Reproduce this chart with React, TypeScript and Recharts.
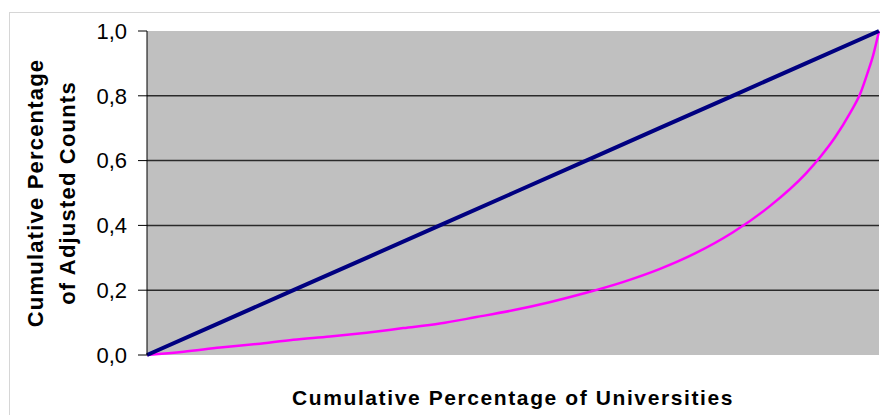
import React from "react"
import { LineChart, Line, XAxis, YAxis, CartesianGrid } from "recharts"

// Share of universities (x) against share of adjusted counts (y)
const equalityShares = [0, 0.1, 0.2, 0.3, 0.4, 0.5, 0.6, 0.7, 0.8, 0.9, 1.0]
const equalityCounts = [0, 0.1, 0.2, 0.3, 0.4, 0.5, 0.6, 0.7, 0.8, 0.9, 1.0]

const lorenzShares = [
  0, 0.05, 0.1, 0.15, 0.2, 0.25, 0.3, 0.35, 0.4, 0.45, 0.5, 0.55, 0.6, 0.65, 0.7, 0.75, 0.8, 0.85, 0.9,
  0.92, 0.94, 0.96, 0.975, 0.985, 0.992, 1.0,
]
const lorenzCounts = [
  0, 0.01, 0.023, 0.034, 0.047, 0.057, 0.069, 0.083, 0.097, 0.117, 0.138, 0.163, 0.192, 0.225, 0.265,
  0.315, 0.378, 0.458, 0.56, 0.612, 0.672, 0.745, 0.81, 0.875, 0.925, 1.0,
]

const yTicks = [0, 0.2, 0.4, 0.6, 0.8, 1.0]
const gridValues = [0.2, 0.4, 0.6, 0.8]

const xTitle = "Cumulative Percentage of Universities"
const yTitle = ["Cumulative Percentage", "of Adjusted Counts"]

const equalityData = equalityShares.map((x, i) => ({ x, y: equalityCounts[i] }))
const lorenzData = lorenzShares.map((x, i) => ({ x, y: lorenzCounts[i] }))

const FONT = "'Liberation Sans', Arial, sans-serif"

function YTitle(props: any) {
  const vb = props.viewBox || { x: 0, y: 31, width: 147, height: 324 }
  const cy = vb.y + vb.height / 2
  return (
    <g>
      {yTitle.map((line, i) => {
        const x = i === 0 ? 43 : 75
        return (
          <text
            key={line}
            x={x}
            y={cy}
            transform={`rotate(-90, ${x}, ${cy})`}
            textAnchor="middle"
            fontFamily={FONT}
            fontWeight="bold"
            fontSize={22}
            letterSpacing={1.2}
            fill="#000"
          >
            {line}
          </text>
        )
      })}
    </g>
  )
}

function XTitle(props: any) {
  const vb = props.viewBox || { x: 147, y: 355, width: 732, height: 60 }
  return (
    <text
      x={vb.x + vb.width / 2}
      y={vb.y + 50}
      textAnchor="middle"
      fontFamily={FONT}
      fontWeight="bold"
      fontSize={21}
      letterSpacing={1.6}
      fill="#000"
    >
      {xTitle}
    </text>
  )
}

export default function App() {
  return (
    <div style={{ position: "absolute", left: 0, top: 0, width: 880, height: 415, overflow: "hidden", background: "#fff" }}>
      <div
        style={{
          position: "absolute",
          left: 9,
          top: 12,
          width: 1000,
          height: 1000,
          border: "1px solid #d6d6d6",
        }}
      />
      <div style={{ position: "absolute", left: 0, top: 0 }}>
        <LineChart width={880} height={415} margin={{ top: 31, right: 1, bottom: 0, left: 0 }}>
          <CartesianGrid
            vertical={false}
            horizontalValues={gridValues}
            stroke="#2a2a2a"
            strokeWidth={1.5}
            fill="#c0c0c0"
            fillOpacity={1}
          />
          <XAxis
            type="number"
            dataKey="x"
            domain={[0, 1]}
            axisLine={false}
            tickLine={false}
            tick={false}
            height={60}
            label={<XTitle />}
          />
          <YAxis
            type="number"
            dataKey="y"
            domain={[0, 1]}
            ticks={yTicks}
            width={147}
            interval={0}
            tickSize={9}
            tickMargin={11}
            axisLine={{ stroke: "#000", strokeWidth: 1 }}
            tickLine={{ stroke: "#000", strokeWidth: 1 }}
            tick={{ fill: "#000", fontSize: 22, fontFamily: FONT }}
            tickFormatter={(v: number) => v.toFixed(1).replace(".", ",")}
            label={<YTitle />}
          />
          <Line
            data={lorenzData}
            dataKey="y"
            type="monotone"
            stroke="#ff00ff"
            strokeWidth={2.5}
            dot={false}
            isAnimationActive={false}
          />
          <Line
            data={equalityData}
            dataKey="y"
            type="linear"
            stroke="#000080"
            strokeWidth={4}
            dot={false}
            isAnimationActive={false}
          />
        </LineChart>
      </div>
    </div>
  )
}
